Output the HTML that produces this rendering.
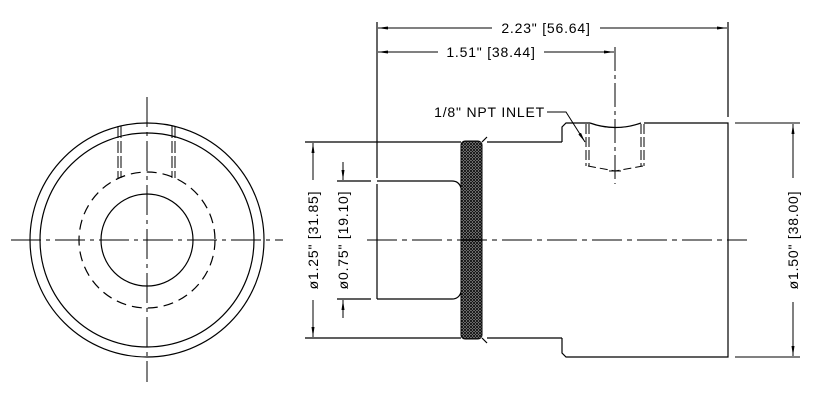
<!DOCTYPE html>
<html><head><meta charset="utf-8"><style>
html,body{margin:0;padding:0;background:#fff;}
svg{display:block;}
text{font-family:"Liberation Sans",sans-serif;font-size:14px;fill:#000;letter-spacing:0.8px;}
</style></head><body>
<svg width="838" height="404" viewBox="0 0 838 404" xmlns="http://www.w3.org/2000/svg">
<defs>
<pattern id="kn" width="3" height="3" patternUnits="userSpaceOnUse">
<rect width="3" height="3" fill="#bbb"/>
<path d="M0 0L3 3M3 0L0 3" stroke="#111" stroke-width="1"/>
</pattern>
<marker id="ar" markerWidth="10" markerHeight="6" refX="10" refY="3" orient="auto" markerUnits="userSpaceOnUse">
<path d="M0 1.5L10 3L0 4.5Z" fill="#000"/>
</marker>
</defs>
<g fill="none" stroke="#000" stroke-width="1.2">
<circle cx="147" cy="240" r="117"/>
<circle cx="147" cy="240" r="107"/>
<circle cx="147" cy="240" r="68" stroke-dasharray="10,6"/>
<circle cx="147" cy="240" r="46"/>
<line x1="11" y1="240" x2="283" y2="240" stroke-dasharray="30,5,4,5" stroke-width="1"/>
<line x1="147" y1="97" x2="147" y2="382" stroke-dasharray="30,5,4,5" stroke-width="1"/>
<g stroke-width="1">
<line x1="118" y1="126" x2="118" y2="178" stroke-dasharray="12,3"/>
<line x1="121" y1="126" x2="121" y2="178" stroke-dasharray="12,3"/>
<line x1="172" y1="126" x2="172" y2="178" stroke-dasharray="12,3"/>
<line x1="175" y1="126" x2="175" y2="178" stroke-dasharray="12,3"/>
</g>

<line x1="305" y1="142" x2="461" y2="142"/>
<line x1="305" y1="338" x2="461" y2="338"/>
<path d="M482 142 L487 137"/>
<path d="M487 142 L562 142"/>
<path d="M482 338 L487 343"/>
<path d="M487 338 L562 338"/>
<path d="M337 181 L371 181"/>
<path d="M377 181 L452 181 Q459 181 461 188"/>
<path d="M337 299 L371 299"/>
<path d="M377 299 L452 299 Q459 299 461 292"/>
<line x1="377" y1="22" x2="377" y2="178"/>
<line x1="377" y1="184" x2="377" y2="299"/>
<rect x="461" y="141" width="21" height="198" rx="4" fill="url(#kn)" stroke-width="1"/>
<path d="M562 142 L562 127 L566 123 L590 123"/>
<path d="M590 123 Q615 132 641 123"/>
<path d="M644 123 L728 123 L728 357 L566 357 L562 353 L562 338"/>
<line x1="728" y1="22" x2="728" y2="117"/>
<g stroke-width="1">
<line x1="586" y1="124" x2="586" y2="166" stroke-dasharray="10,3"/>
<line x1="589" y1="124" x2="589" y2="166" stroke-dasharray="10,3"/>
<line x1="641" y1="124" x2="641" y2="166" stroke-dasharray="10,3"/>
<line x1="644" y1="124" x2="644" y2="166" stroke-dasharray="10,3"/>
<path d="M588 166 L615 171 L643 166" stroke-dasharray="8,4"/>
<line x1="615" y1="47" x2="615" y2="184" stroke-dasharray="24,4,4,4"/>
<line x1="609" y1="171" x2="621" y2="171"/>
</g>
<line x1="367" y1="240" x2="747" y2="240" stroke-dasharray="30,5,5,5" stroke-width="1"/>

<g stroke-width="1">
<line x1="492" y1="28" x2="378" y2="28" marker-end="url(#ar)"/>
<line x1="600" y1="28" x2="727" y2="28" marker-end="url(#ar)"/>
<line x1="438" y1="52" x2="378" y2="52" marker-end="url(#ar)"/>
<line x1="544" y1="52" x2="614" y2="52" marker-end="url(#ar)"/>
<path d="M547 112 L566 112 L585 142" marker-end="url(#ar)"/>
<line x1="313" y1="180" x2="313" y2="143" marker-end="url(#ar)"/>
<line x1="313" y1="300" x2="313" y2="337" marker-end="url(#ar)"/>
<line x1="343" y1="162" x2="343" y2="180" marker-end="url(#ar)"/>
<line x1="343" y1="318" x2="343" y2="300" marker-end="url(#ar)"/>
<line x1="337" y1="181" x2="349" y2="181"/>
<line x1="337" y1="299" x2="349" y2="299"/>
<line x1="735" y1="123" x2="800" y2="123"/>
<line x1="735" y1="357" x2="800" y2="357"/>
<line x1="793" y1="178" x2="793" y2="124" marker-end="url(#ar)"/>
<line x1="793" y1="302" x2="793" y2="356" marker-end="url(#ar)"/>
</g>
</g>

<text x="546" y="33" text-anchor="middle">2.23" [56.64]</text>
<text x="491" y="57" text-anchor="middle">1.51" [38.44]</text>
<text x="545" y="117" text-anchor="end">1/8" NPT INLET</text>
<text transform="translate(318,240) rotate(-90)" text-anchor="middle">ø1.25" [31.85]</text>
<text transform="translate(348,240) rotate(-90)" text-anchor="middle">ø0.75" [19.10]</text>
<text transform="translate(798,240) rotate(-90)" text-anchor="middle">ø1.50" [38.00]</text>
</svg>
</body></html>
